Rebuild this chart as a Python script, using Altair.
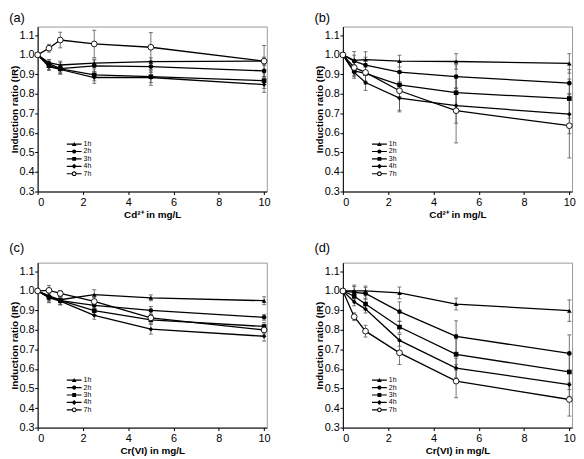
import altair as alt
import pandas as pd

doses = [0, 0.5, 1, 2.5, 5, 10]
series = ["1h", "2h", "3h", "4h", "7h"]

# ---- panel (a): Cd2+ ----
a_y = {
    "1h": [1.0, 0.960, 0.948, 0.958, 0.965, 0.968],
    "2h": [1.0, 0.955, 0.930, 0.944, 0.940, 0.918],
    "3h": [1.0, 0.945, 0.928, 0.897, 0.888, 0.868],
    "4h": [1.0, 0.940, 0.925, 0.884, 0.884, 0.848],
    "7h": [1.0, 1.034, 1.076, 1.056, 1.039, 0.968],
}
a_err = {
    "1h": [0, 0.015, 0.020, 0.020, 0.020, 0.020],
    "2h": [0, 0.020, 0.030, 0.030, 0.030, 0.030],
    "3h": [0, 0.020, 0.020, 0.030, 0.030, 0.040],
    "4h": [0, 0.020, 0.020, 0.030, 0.040, 0.040],
    "7h": [0, 0.020, 0.040, 0.070, 0.075, 0.080],
}
# ---- panel (b): Cd2+ ----
b_y = {
    "1h": [1.0, 0.972, 0.976, 0.968, 0.966, 0.956],
    "2h": [1.0, 0.968, 0.948, 0.912, 0.889, 0.855],
    "3h": [1.0, 0.918, 0.905, 0.846, 0.806, 0.776],
    "4h": [1.0, 0.910, 0.858, 0.778, 0.740, 0.696],
    "7h": [1.0, 0.935, 0.910, 0.816, 0.714, 0.637],
}
b_err = {
    "1h": [0, 0.045, 0.040, 0.030, 0.040, 0.050],
    "2h": [0, 0.030, 0.040, 0.050, 0.060, 0.070],
    "3h": [0, 0.030, 0.040, 0.060, 0.080, 0.100],
    "4h": [0, 0.030, 0.040, 0.070, 0.090, 0.100],
    "7h": [0, 0.040, 0.060, 0.100, 0.165, 0.165],
}
# ---- panel (c): Cr(VI) ----
c_y = {
    "1h": [1.0, 0.975, 0.955, 0.981, 0.965, 0.950],
    "2h": [1.0, 0.970, 0.950, 0.926, 0.900, 0.865],
    "3h": [1.0, 0.968, 0.952, 0.899, 0.852, 0.818],
    "4h": [1.0, 0.965, 0.948, 0.875, 0.804, 0.768],
    "7h": [1.0, 1.003, 0.987, 0.946, 0.862, 0.800],
}
c_err = {
    "1h": [0, 0.020, 0.015, 0.025, 0.015, 0.020],
    "2h": [0, 0.020, 0.020, 0.020, 0.020, 0.015],
    "3h": [0, 0.025, 0.020, 0.020, 0.020, 0.020],
    "4h": [0, 0.025, 0.020, 0.020, 0.025, 0.025],
    "7h": [0, 0.025, 0.015, 0.020, 0.020, 0.020],
}
# ---- panel (d): Cr(VI) ----
d_y = {
    "1h": [1.0, 1.000, 1.000, 0.990, 0.933, 0.899],
    "2h": [1.0, 0.993, 0.987, 0.894, 0.767, 0.680],
    "3h": [1.0, 0.973, 0.933, 0.815, 0.675, 0.585],
    "4h": [1.0, 0.944, 0.907, 0.747, 0.605, 0.520],
    "7h": [1.0, 0.868, 0.794, 0.683, 0.538, 0.444],
}
d_err = {
    "1h": [0, 0.030, 0.025, 0.030, 0.030, 0.055],
    "2h": [0, 0.030, 0.030, 0.050, 0.080, 0.095],
    "3h": [0, 0.020, 0.030, 0.030, 0.080, 0.090],
    "4h": [0, 0.020, 0.020, 0.030, 0.050, 0.060],
    "7h": [0, 0.020, 0.030, 0.060, 0.085, 0.085],
}

y_ticks = [0.3, 0.4, 0.5, 0.6, 0.7, 0.8, 0.9, 1.0, 1.1]
x_ticks = [0, 2, 4, 6, 8, 10]

FONT = "Liberation Sans"

filled_shapes = ["triangle-up", "circle", "square", "diamond"]

# legend symbols: line segment + marker (units of sqrt(size)/2)
LINE = "M-2.5,-0.2H2.5V0.2H-2.5Z "
legend_paths = [
    LINE + "M0,-0.75L0.8,0.6H-0.8Z",
    LINE + "M-0.7,0A0.7,0.7 0 1,1 0.7,0A0.7,0.7 0 1,1 -0.7,0Z",
    LINE + "M-0.65,-0.65H0.65V0.65H-0.65Z",
    LINE + "M0,-0.85L0.85,0L0,0.85L-0.85,0Z",
    "M-2.5,-0.2H-0.75V0.2H-2.5Z M0.75,-0.2H2.5V0.2H0.75Z "
    "M-0.8,0A0.8,0.8 0 1,1 0.8,0A0.8,0.8 0 1,1 -0.8,0Z "
    "M-0.45,0A0.45,0.45 0 1,0 0.45,0A0.45,0.45 0 1,0 -0.45,0Z",
]


def make_df(ys, errs):
    rows = []
    for s in series:
        for x, y, e in zip(doses, ys[s], errs[s]):
            rows.append({"series": s, "x": x, "y": y, "err": e})
    return pd.DataFrame(rows)


xscale = alt.Scale(domain=[0, 10.12], nice=False, zero=False)
yscale = alt.Scale(domain=[0.3, 1.145], nice=False, zero=False)


def panel(df, label, xtitle, title_offset):
    xaxis = alt.Axis(values=x_ticks, title=xtitle)
    yaxis = alt.Axis(values=y_ticks, format=".1f", title="Induction ratio (IR)")
    X = alt.X("x:Q", scale=xscale, axis=xaxis)
    base = alt.Chart(df)
    eb = base.transform_filter("datum.err > 0").transform_calculate(
        lo="datum.y - datum.err", hi="datum.y + datum.err"
    )
    bars = eb.mark_rule(color="#555", strokeWidth=0.8).encode(
        x=X, y=alt.Y("lo:Q", scale=yscale, axis=yaxis), y2="hi:Q"
    )
    cap_lo = eb.mark_rule(color="#555", strokeWidth=0.8, xOffset=-2, x2Offset=2).encode(
        x=X, x2="x:Q", y=alt.Y("lo:Q", scale=yscale, axis=yaxis)
    )
    cap_hi = eb.mark_rule(color="#555", strokeWidth=0.8, xOffset=-2, x2Offset=2).encode(
        x=X, x2="x:Q", y=alt.Y("hi:Q", scale=yscale, axis=yaxis)
    )
    Y = alt.Y("y:Q", scale=yscale, axis=yaxis)
    lines = base.mark_line(color="black", strokeWidth=1.3).encode(
        x=X, y=Y, detail="series:N", order="x:Q"
    )
    pts = base.transform_filter("datum.series != '7h'").mark_point(
        filled=True, color="black", size=22, opacity=1
    ).encode(
        x=X, y=Y,
        shape=alt.Shape("series:N", scale=alt.Scale(domain=series[:4], range=filled_shapes), legend=None),
    )
    circ = base.transform_filter("datum.series == '7h'").mark_point(
        shape="circle", filled=True, fill="white", stroke="black", strokeWidth=0.9, size=34, opacity=1
    ).encode(x=X, y=Y)
    leg = base.transform_filter("false").mark_point(
        filled=True, color="black", size=36, opacity=1, strokeWidth=0
    ).encode(
        x=X, y=Y,
        shape=alt.Shape(
            "series:N",
            scale=alt.Scale(domain=series, range=legend_paths),
            legend=alt.Legend(
                orient="none", legendX=33.5, legendY=115.5, title=None,
                symbolSize=36, labelFontSize=7, labelFont=FONT, labelColor="black",
                labelOffset=6, rowPadding=-0.5, padding=0, symbolStrokeWidth=0,
                symbolFillColor="black", symbolOpacity=1,
            ),
        ),
    )
    return (
        alt.layer(bars, cap_lo, cap_hi, lines, pts, circ, leg)
        .resolve_scale(shape="independent")
        .properties(
            width=232,
            height=167,
            title=alt.TitleParams(
                label, anchor="start", frame="bounds", fontSize=13,
                fontWeight="normal", font=FONT, color="black", offset=title_offset,
            ),
        )
    )


pa = panel(make_df(a_y, a_err), "(a)", "Cd²⁺ in mg/L", 2)
pb = panel(make_df(b_y, b_err), "(b)", "Cd²⁺ in mg/L", 2)
pc = panel(make_df(c_y, c_err), "(c)", "Cr(VI) in mg/L", 8)
pd_ = panel(make_df(d_y, d_err), "(d)", "Cr(VI) in mg/L", 8)

chart = (
    alt.concat(pa, pb, pc, pd_, columns=2, bounds="flush",
               spacing=alt.RowColnumber(row=72, column=77))
    .resolve_scale(shape="independent")
    .resolve_legend(shape="independent")
    .configure(padding=0, background="white")
    .configure_view(stroke="#999999", strokeWidth=1)
    .configure_axis(
        grid=False,
        labelFont=FONT, labelFontSize=11, labelColor="black",
        titleFont=FONT, titleFontSize=10, titleFontWeight="bold", titleColor="black",
        tickColor="black", domainColor="black", tickSize=3,
    )
    .configure_axisY(labelPadding=0.5, titlePadding=0)
    .configure_axisX(labelPadding=2, titlePadding=2)
)

chart.save("out.html", embed_options={"renderer": "svg", "actions": False})
